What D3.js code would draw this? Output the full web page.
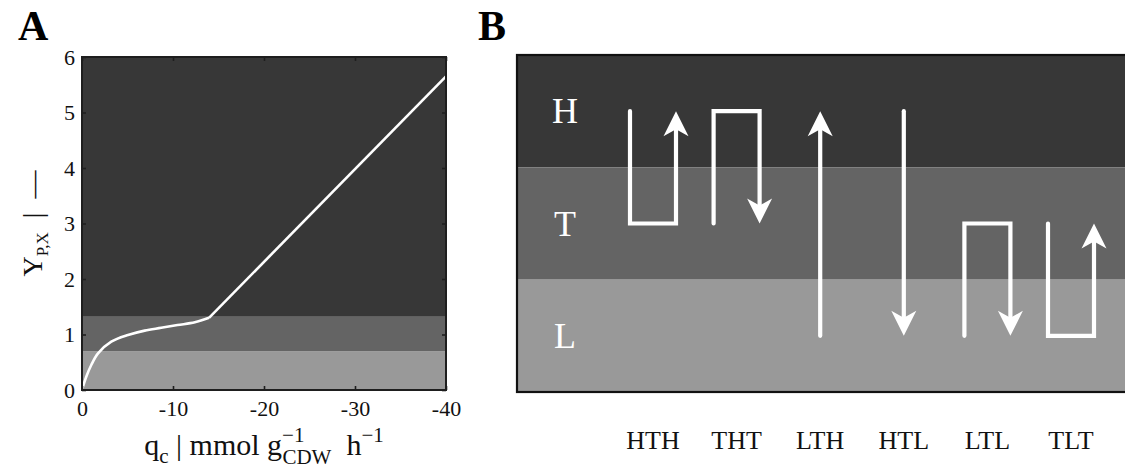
<!DOCTYPE html>
<html><head><meta charset="utf-8">
<script src="https://cdn.jsdelivr.net/npm/d3@7"></script>
<style>
html,body{margin:0;padding:0;background:#fff;}
svg{display:block;font-family:"Liberation Serif","DejaVu Serif",serif;}
</style></head>
<body><svg id="c" width="1125" height="469"></svg>
<script>
// ---- Panel A data ----
const xTicks = [0, -10, -20, -30, -40];
const yTicks = [0, 1, 2, 3, 4, 5, 6];
const bandNamesA = ["L", "T", "H"];
const bandLowA = [0, 0.7, 1.32];
const bandHighA = [0.7, 1.32, 6];
// saturating part of Y_P,X(q_c)
const curveQ = [0, -0.2, -0.47, -1.02, -1.76, -3.22, -5.05, -6.89, -8.7, -10.5, -12.4, -13.96];
const curveY = [0, 0.11, 0.24, 0.45, 0.66, 0.87, 0.99, 1.07, 1.12, 1.17, 1.22, 1.30];
// linear part
const lineQ = [-13.96, -40];
const lineY = [1.30, 5.65];

// ---- Panel B data ----
const levels = ["H", "T", "L"];
const patterns = ["HTH", "THT", "LTH", "HTL", "LTL", "TLT"];

const colors = {H: "#373737", T: "#646464", L: "#999999"};

const svg = d3.select("#c");

// ===== Panel A =====
const A = {l: 82, r: 446, t: 57, b: 390};
const x = d3.scaleLinear().domain([0, -40]).range([A.l, A.r]);
const y = d3.scaleLinear().domain([0, 6]).range([A.b, A.t]);

const gA = svg.append("g");
gA.selectAll("rect.band").data(bandNamesA).join("rect")
  .attr("x", A.l).attr("width", A.r - A.l)
  .attr("y", (d, i) => y(bandHighA[i]))
  .attr("height", (d, i) => y(bandLowA[i]) - y(bandHighA[i]))
  .attr("fill", d => colors[d]);

gA.append("path")
  .attr("d", d3.line().x(d => x(d[0])).y(d => y(d[1])).curve(d3.curveCatmullRom.alpha(0.5))(curveQ.map((q, i) => [q, curveY[i]])))
  .attr("fill", "none").attr("stroke", "#fff").attr("stroke-width", 2.6);
gA.append("path")
  .attr("d", d3.line().x(d => x(d[0])).y(d => y(d[1]))(lineQ.map((q, i) => [q, lineY[i]])))
  .attr("fill", "none").attr("stroke", "#fff").attr("stroke-width", 2.6);

// axes (ticks inward, box)
const tickLen = 4;
const fmt = d => String(d);
const axB = gA.append("g").attr("transform", `translate(0,${A.b})`)
  .call(d3.axisBottom(x).tickValues(xTicks).tickSize(-tickLen).tickPadding(12).tickFormat(fmt));
const axT = gA.append("g").attr("transform", `translate(0,${A.t})`)
  .call(d3.axisTop(x).tickValues(xTicks).tickSize(-tickLen).tickFormat(""));
const axL = gA.append("g").attr("transform", `translate(${A.l},0)`)
  .call(d3.axisLeft(y).tickValues(yTicks).tickSize(-tickLen).tickPadding(7).tickFormat(fmt));
const axR = gA.append("g").attr("transform", `translate(${A.r},0)`)
  .call(d3.axisRight(y).tickValues(yTicks).tickSize(-tickLen).tickFormat(""));
[axB, axT, axL, axR].forEach(a => {
  a.select(".domain").remove();
  a.selectAll(".tick line").attr("stroke", "#1e1e1e").attr("stroke-width", 1.6);
  a.selectAll("text").attr("font-family", "Liberation Serif, serif").attr("font-size", 22).attr("fill", "#111");
});
axB.selectAll("text").attr("dy", "0.62em");
axL.selectAll("text").attr("dy", "0.34em");
gA.append("rect").attr("x", A.l).attr("y", A.t).attr("width", A.r - A.l).attr("height", A.b - A.t)
  .attr("fill", "none").attr("stroke", "#1e1e1e").attr("stroke-width", 2);

// x title
const xt = gA.append("text").attr("x", (A.l + A.r) / 2).attr("y", 455)
  .attr("text-anchor", "middle").attr("font-size", 30).attr("fill", "#111");
xt.append("tspan").text("q");
xt.append("tspan").attr("font-size", 21).attr("dy", 8).text("c");
xt.append("tspan").attr("dy", -8).text(" | mmol g");
xt.append("tspan").attr("font-size", 21).attr("dy", -13).text("−1");
xt.append("tspan").attr("font-size", 21).attr("dx", -22).attr("dy", 22).text("CDW");
xt.append("tspan").attr("dy", -9).text("\u00a0\u00a0h");
xt.append("tspan").attr("font-size", 21).attr("dy", -13).text("−1");

// y title
const yt = gA.append("text").attr("transform", `translate(42,${(A.t + A.b) / 2}) rotate(-90)`)
  .attr("text-anchor", "middle").attr("font-size", 28).attr("fill", "#111");
yt.append("tspan").text("Y");
yt.append("tspan").attr("font-size", 17).attr("dy", 6).text("P,X");
yt.append("tspan").attr("dy", -6).text("\u00a0\u00a0|\u00a0\u00a0—");

svg.append("text").attr("x", 18).attr("y", 40).attr("font-size", 42).attr("font-weight", "bold").attr("fill", "#000").text("A");
svg.append("text").attr("x", 478).attr("y", 40).attr("font-size", 42).attr("font-weight", "bold").attr("fill", "#000").text("B");

// ===== Panel B =====
const B = {l: 517, r: 1140, t: 55, b: 392};
const yb = d3.scaleBand().domain(levels).range([B.t, B.b]).paddingInner(0).paddingOuter(0);
const lev = l => yb(l) + yb.bandwidth() / 2;
const xb = d3.scalePoint().domain(patterns).range([653, 1071]);
const half = 23;

const gB = svg.append("g");
gB.selectAll("rect.lv").data(levels).join("rect")
  .attr("x", B.l).attr("width", B.r - B.l)
  .attr("y", d => yb(d)).attr("height", yb.bandwidth())
  .attr("fill", d => colors[d]);
gB.append("rect").attr("x", B.l).attr("y", B.t).attr("width", B.r - B.l).attr("height", B.b - B.t)
  .attr("fill", "none").attr("stroke", "#111").attr("stroke-width", 2.2);

gB.selectAll("text.lv").data(levels).join("text")
  .attr("x", 565).attr("y", d => lev(d) + 12)
  .attr("text-anchor", "middle").attr("font-size", 36).attr("fill", "#fff").text(d => d);

const rank = {H: 0, T: 1, L: 2};
function pts(p) {
  const [a, b, c] = p.split("");
  const cx = xb(p);
  const monotone = (rank[a] - rank[b]) * (rank[b] - rank[c]) > 0;
  if (monotone) return [[cx, lev(a)], [cx, lev(c)]];
  return [[cx - half, lev(a)], [cx - half, lev(b)], [cx + half, lev(b)], [cx + half, lev(c)]];
}
const headLen = 25, headW = 12.5, notch = 18;
patterns.forEach(p => {
  const ps = pts(p);
  const tip = ps[ps.length - 1], prev = ps[ps.length - 2];
  const dir = Math.sign(tip[1] - prev[1]); // +1 down, -1 up
  const linePts = ps.slice(0, -1).concat([[tip[0], tip[1] - dir * (notch - 2)]]);
  gB.append("path").attr("d", d3.line()(linePts))
    .attr("fill", "none").attr("stroke", "#fff").attr("stroke-width", 4.2)
    .attr("stroke-linecap", "round").attr("stroke-linejoin", "miter");
  const tx = tip[0], ty = tip[1];
  gB.append("path")
    .attr("d", `M${tx},${ty} L${tx - headW},${ty - dir * headLen} L${tx},${ty - dir * notch} L${tx + headW},${ty - dir * headLen} Z`)
    .attr("fill", "#fff");
});

svg.selectAll("text.pat").data(patterns).join("text")
  .attr("x", d => xb(d)).attr("y", 449).attr("text-anchor", "middle")
  .attr("font-size", 26).attr("fill", "#111").text(d => d);
</script></body></html>
